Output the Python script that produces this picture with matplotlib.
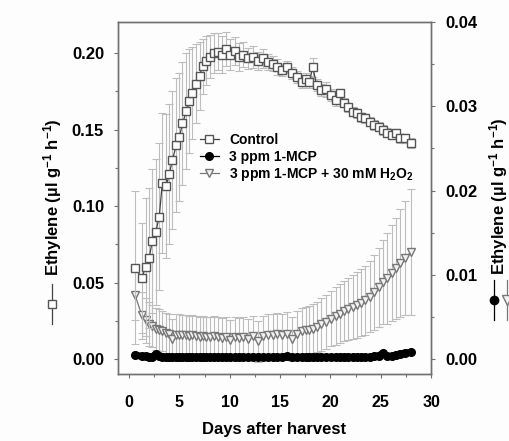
import numpy as np
import matplotlib
matplotlib.use('Agg')
import matplotlib.pyplot as plt
from matplotlib.lines import Line2D
from matplotlib.ticker import MultipleLocator, FormatStrFormatter

plt.rcParams['font.family'] = ['Liberation Sans', 'DejaVu Sans']
plt.rcParams['font.weight'] = 'bold'
plt.rcParams['mathtext.fontset'] = 'custom'
plt.rcParams['mathtext.rm'] = 'Liberation Sans:bold'
plt.rcParams['mathtext.bf'] = 'Liberation Sans:bold'
plt.rcParams['mathtext.it'] = 'Liberation Sans:bold'

# sampling days
days = [0.6, 1.26, 1.65, 2.0, 2.3, 2.65, 3.0, 3.3, 3.7, 4.0,
        4.3, 4.7, 5.0, 5.3, 5.7, 6.0, 6.3, 6.65, 7.0, 7.3,
        7.65, 8.0, 8.4, 8.8, 9.2, 9.6, 10.0, 10.5, 10.95, 11.35,
        11.85, 12.3, 12.85, 13.3, 13.8, 14.3, 14.7, 15.2, 15.65, 16.15,
        16.65, 17.15, 17.6, 17.9, 18.25, 18.65, 19.1, 19.6, 20.1, 20.55,
        20.95, 21.35, 21.8, 22.2, 22.6, 23.0, 23.4, 23.9, 24.3, 24.8,
        25.25, 25.65, 26.1, 26.5, 26.9, 27.4, 28.0]

# Control (left axis)
control = [0.0597, 0.053, 0.060, 0.066, 0.077, 0.083, 0.093, 0.115, 0.113, 0.121,
           0.130, 0.140, 0.145, 0.154, 0.162, 0.169, 0.174, 0.180, 0.185, 0.1915,
           0.195, 0.1976, 0.200, 0.201, 0.199, 0.2026, 0.199, 0.2015, 0.1976, 0.199,
           0.1965, 0.1976, 0.195, 0.1965, 0.1943, 0.193, 0.191, 0.189, 0.1907, 0.1868,
           0.1846, 0.1813, 0.183, 0.181, 0.1907, 0.179, 0.176, 0.1764, 0.1726, 0.1694,
           0.1737, 0.1676, 0.1646, 0.1618, 0.1607, 0.1581, 0.1574, 0.1553, 0.153, 0.152,
           0.1498, 0.148, 0.1466, 0.1477, 0.1444, 0.1444, 0.1412]
control_sd = [0.050, 0.036, 0.045, 0.046, 0.047, 0.048, 0.048, 0.046, 0.047, 0.046,
              0.045, 0.044, 0.042, 0.040, 0.038, 0.034, 0.030, 0.026, 0.022, 0.018,
              0.016, 0.014, 0.013, 0.012, 0.012, 0.011, 0.010, 0.009, 0.009, 0.008,
              0.007, 0.007, 0.006, 0.006, 0.005, 0.005, 0.005, 0.004, 0.004, 0.004,
              0.004, 0.004, 0.004, 0.004, 0.006, 0.004, 0.004, 0.005, 0.004, 0.004,
              0.003, 0.003, 0.003, 0.003, 0.003, 0.003, 0.003, 0.003, 0.003, 0.003,
              0.003, 0.003, 0.003, 0.003, 0.003, 0.003, 0.003]

# 3 ppm 1-MCP (right axis)
mcp = [0.0005, 0.0003, 0.0003, 0.0002, 0.0002, 0.0006, 0.0003, 0.0002, 0.0002, 0.0002,
       0.0002, 0.0002, 0.0002, 0.0002, 0.0002, 0.0002, 0.0002, 0.0002, 0.0002, 0.0002,
       0.0002, 0.0002, 0.0002, 0.0002, 0.0002, 0.0002, 0.0002, 0.0002, 0.0002, 0.0002,
       0.0002, 0.0002, 0.0002, 0.0002, 0.0002, 0.0002, 0.0002, 0.0002, 0.0003, 0.0002,
       0.0002, 0.0002, 0.0002, 0.0002, 0.0002, 0.0002, 0.0002, 0.0002, 0.0002, 0.0002,
       0.0002, 0.0002, 0.0002, 0.0002, 0.0002, 0.0002, 0.0002, 0.0002, 0.0003, 0.0004,
       0.0007, 0.0003, 0.0003, 0.0005, 0.0006, 0.0007, 0.0008]

# 3 ppm 1-MCP + 30 mM H2O2 (right axis)
mcp_h2o2 = [0.0076, 0.0052, 0.0046, 0.0042, 0.0039, 0.0036, 0.0034, 0.0033, 0.0031, 0.0030,
            0.0024, 0.0029, 0.0029, 0.0028, 0.0028, 0.0027, 0.0028, 0.0027, 0.0026, 0.0027,
            0.0026, 0.0026, 0.0027, 0.0026, 0.0025, 0.0026, 0.0022, 0.0026, 0.0025, 0.0026,
            0.0024, 0.0027, 0.0021, 0.0027, 0.0029, 0.0029, 0.0030, 0.0029, 0.0030, 0.0024,
            0.0030, 0.0033, 0.0034, 0.0035, 0.0036, 0.0038, 0.0041, 0.0044, 0.0048, 0.0051,
            0.0054, 0.0057, 0.0059, 0.0062, 0.0064, 0.0067, 0.0070, 0.0074, 0.0079, 0.0085,
            0.0091, 0.0096, 0.0102, 0.0108, 0.0114, 0.0120, 0.0127]
mcp_h2o2_sd = [0.0030, 0.0028, 0.0027, 0.0026, 0.0025, 0.0025, 0.0025, 0.0024, 0.0024, 0.0024,
               0.0024, 0.0024, 0.0024, 0.0024, 0.0024, 0.0024, 0.0024, 0.0024, 0.0024, 0.0024,
               0.0024, 0.0024, 0.0024, 0.0024, 0.0024, 0.0024, 0.0024, 0.0024, 0.0024, 0.0024,
               0.0024, 0.0024, 0.0024, 0.0024, 0.0024, 0.0024, 0.0025, 0.0025, 0.0026, 0.0026,
               0.0027, 0.0027, 0.0028, 0.0028, 0.0029, 0.0030, 0.0031, 0.0032, 0.0033, 0.0034,
               0.0035, 0.0036, 0.0037, 0.0038, 0.0039, 0.0040, 0.0041, 0.0042, 0.0044, 0.0047,
               0.0050, 0.0054, 0.0057, 0.0060, 0.0064, 0.0068, 0.0075]

err_color = '#bdbdbd'
spine_color = '#707070'

fig = plt.figure(figsize=(5.09, 4.41), dpi=100)
fig.patch.set_facecolor('#fdfdfd')
ax = fig.add_axes([0.2318, 0.1519, 0.615, 0.798])
ax2 = ax.twinx()

# error bars first (light grey)
ax.errorbar(days, control, yerr=control_sd, fmt='none', ecolor=err_color,
            elinewidth=0.8, capsize=3, capthick=0.8, zorder=1)
ax2.errorbar(days, mcp_h2o2, yerr=mcp_h2o2_sd, fmt='none', ecolor=err_color,
             elinewidth=0.8, capsize=3, capthick=0.8, zorder=1)

ax.plot(days, control, '-s', color='#444444', lw=0.9, ms=5.5,
        mfc='white', mec='#555555', mew=1.0, zorder=3)
ax2.plot(days, mcp_h2o2, '-v', color='#777777', lw=0.9, ms=6,
         mfc='#f2f2f2', mec='#777777', mew=1.0, zorder=3)
# MCP circles overlap into a solid band
ax2.plot(days, mcp, '-o', color='black', lw=5, ms=5.5,
         mfc='black', mec='black', solid_capstyle='round', zorder=4)

ax.set_zorder(ax2.get_zorder() + 1)
ax.patch.set_visible(False)

ax.set_xlim(-1.1, 30)
ax.set_ylim(-0.0098, 0.2203)
ax2.set_ylim(-0.00178, 0.04)

ax.xaxis.set_major_locator(MultipleLocator(5))
ax.xaxis.set_minor_locator(MultipleLocator(2.5))
ax.yaxis.set_major_locator(MultipleLocator(0.05))
ax.yaxis.set_minor_locator(MultipleLocator(0.025))
ax.yaxis.set_major_formatter(FormatStrFormatter('%.2f'))
ax2.yaxis.set_major_locator(MultipleLocator(0.01))
ax2.yaxis.set_minor_locator(MultipleLocator(0.005))
ax2.yaxis.set_major_formatter(FormatStrFormatter('%.2f'))

for a in (ax, ax2):
    for s in a.spines.values():
        s.set_color(spine_color)
        s.set_linewidth(1.0)
    a.tick_params(which='both', direction='out', color=spine_color, width=0.8,
                  labelsize=12, pad=7)
    a.tick_params(which='major', length=3)
    a.tick_params(which='minor', length=2.5)
ax.tick_params(axis='x', labelsize=11.5, pad=12)

ax.set_xlabel('Days after harvest', fontsize=12, fontweight='bold', labelpad=9)

# legend
h1 = Line2D([], [], color='#444444', marker='s', ms=5.5, mfc='white', mec='#555555', lw=0.9)
h2 = Line2D([], [], color='black', marker='o', ms=5.5, mfc='black', lw=0.9)
h3 = Line2D([], [], color='#777777', marker='v', ms=6, mfc='#f2f2f2', mec='#777777', lw=0.9)
ax.legend([h1, h2, h3], ['Control', '3 ppm 1-MCP', '3 ppm 1-MCP + 30 mM H$_2$O$_2$'],
          loc='upper left', bbox_to_anchor=(190 / 509, 1 - 123 / 441),
          bbox_transform=fig.transFigure, frameon=False, fontsize=10,
          handlelength=1.4, handletextpad=0.7, labelspacing=0.2, borderpad=0.2)

# axis labels with symbol keys
ylab = 'Ethylene (µl g$^{-1}$ h$^{-1}$)'
fig.text(53 / 509, 1 - 197 / 441, ylab, rotation=90, ha='center', va='center',
         fontsize=12, fontweight='bold')
fig.text(499 / 509, 1 - 196 / 441, ylab, rotation=90, ha='center', va='center',
         fontsize=12, fontweight='bold')

def key(xpx, ypx, **kw):
    fig.add_artist(Line2D([xpx / 509] * 3, [1 - (ypx - 20) / 441, 1 - ypx / 441, 1 - (ypx + 20) / 441],
                          transform=fig.transFigure, lw=0.9, markevery=[1], **kw))

key(52, 304, color='#444444', marker='s', ms=6, mfc='white', mec='#555555')
key(494, 300, color='black', marker='o', ms=6, mfc='black')
key(507, 300, color='#777777', marker='v', ms=6.5, mfc='#f2f2f2', mec='#777777')

fig.savefig('out.png', dpi=100, facecolor=fig.get_facecolor())
